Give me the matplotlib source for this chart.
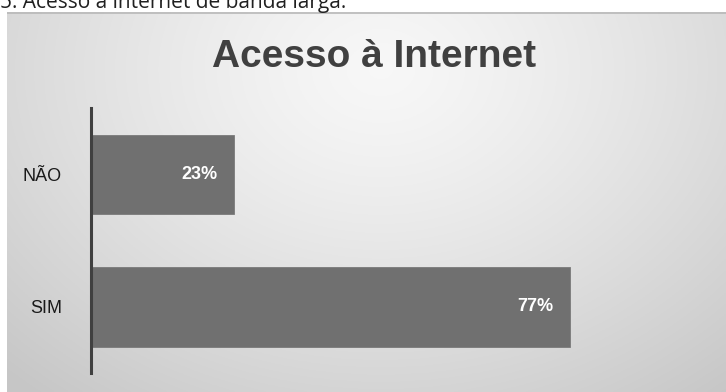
import numpy as np
import matplotlib
matplotlib.use("Agg")
import matplotlib.pyplot as plt

categorias = ["SIM", "NÃO"]
valores = [77, 23]
rotulos = ["77%", "23%"]
titulo = "Acesso à Internet"
legenda_topo = "5. Acesso à internet de banda larga."

W, H = 726, 392
fig = plt.figure(figsize=(W / 100, H / 100), dpi=100)
fig.patch.set_facecolor("white")

# fundo com gradiente radial (area do grafico)
x0, y0 = 7 / W, 0.0
x1, y1 = 1.0, 1 - 12 / H
bg = fig.add_axes([x0, y0, x1 - x0, y1 - y0])
nx, ny = 400, 220
xx, yy = np.meshgrid(np.linspace(0, 1, nx), np.linspace(0, 1, ny))
cx, cy = 0.52, 0.15
d = np.sqrt(((xx - cx) / 0.75) ** 2 + ((yy - cy) / 1.1) ** 2)
d = np.clip(d, 0, 1)
lum = 0.97 - 0.19 * d ** 1.3
bg.imshow(np.dstack([lum, lum, lum]), aspect="auto", extent=[0, 1, 1, 0])
bg.set_xlim(0, 1)
bg.set_ylim(1, 0)
bg.axis("off")
bg.plot([0, 1], [0.003, 0.003], color="#b8b8b8", lw=1.2)

# legenda cortada no topo (como na imagem original)
fig.text(0.0, 1 - 8 / H, legenda_topo, fontsize=15, family="Open Sans",
         color="#202020", va="baseline", ha="left", zorder=0)

fig.text(374 / W, 1 - 67 / H, titulo, fontsize=28, fontweight="bold",
         family="Liberation Sans", color="#404040", ha="center", va="baseline")

ax = fig.add_axes([91 / W, 1 - 373 / H, 622 / W, 265 / H])
ax.patch.set_alpha(0)
pos = np.arange(len(categorias))
ax.barh(pos, valores, height=0.6, color="#707070", edgecolor="#7a7a7a", linewidth=0.6)
for p, v, r in zip(pos, valores, rotulos):
    ax.text(v - 2.6, p, r, color="white", fontsize=13, fontweight="bold",
            family="Liberation Sans", ha="right", va="center")
ax.set_xlim(0, 100)
ax.set_ylim(-0.5, 1.5)
ax.set_yticks(pos)
ax.set_yticklabels(categorias, fontsize=13, family="Liberation Sans", color="#1a1a1a")
ax.tick_params(axis="y", length=0, pad=21)
ax.set_xticks([])
for s in ["top", "right", "bottom"]:
    ax.spines[s].set_visible(False)
ax.spines["left"].set_color("#404040")
ax.spines["left"].set_linewidth(2.2)

fig.savefig("out.png", dpi=100)
